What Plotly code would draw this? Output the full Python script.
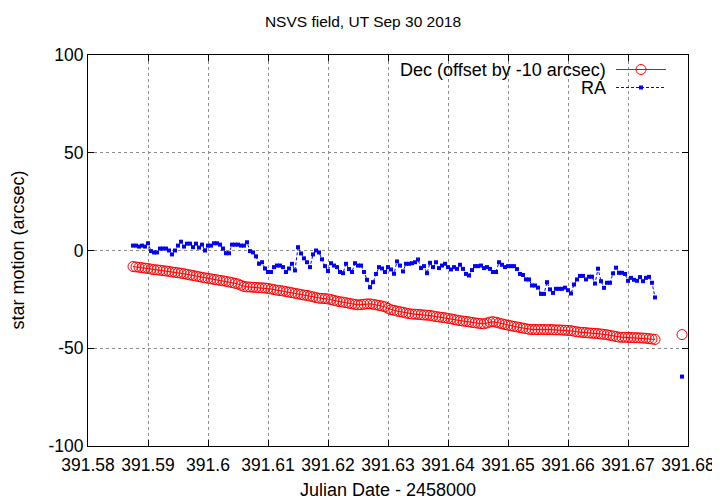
import plotly.graph_objects as go

# ---------------- data ----------------
jd = [
    391.5875, 391.5880, 391.5885, 391.5890, 391.5895, 391.5900, 391.5905, 391.5910, 391.5915, 391.5920,
    391.5925, 391.5930, 391.5935, 391.5940, 391.5945, 391.5950, 391.5955, 391.5960, 391.5965, 391.5970,
    391.5975, 391.5980, 391.5985, 391.5990, 391.5995, 391.6000, 391.6005, 391.6010, 391.6015, 391.6020,
    391.6025, 391.6030, 391.6035, 391.6040, 391.6045, 391.6050, 391.6055, 391.6060, 391.6065, 391.6070,
    391.6075, 391.6080, 391.6085, 391.6090, 391.6095, 391.6100, 391.6105, 391.6110, 391.6115, 391.6120,
    391.6125, 391.6130, 391.6135, 391.6140, 391.6145, 391.6150, 391.6155, 391.6160, 391.6165, 391.6170,
    391.6175, 391.6180, 391.6185, 391.6190, 391.6195, 391.6200, 391.6205, 391.6210, 391.6215, 391.6220,
    391.6225, 391.6230, 391.6235, 391.6240, 391.6245, 391.6250, 391.6255, 391.6260, 391.6265, 391.6270,
    391.6275, 391.6280, 391.6285, 391.6290, 391.6295, 391.6300, 391.6305, 391.6310, 391.6315, 391.6320,
    391.6325, 391.6330, 391.6335, 391.6340, 391.6345, 391.6350, 391.6355, 391.6360, 391.6365, 391.6370,
    391.6375, 391.6380, 391.6385, 391.6390, 391.6395, 391.6400, 391.6405, 391.6410, 391.6415, 391.6420,
    391.6425, 391.6430, 391.6435, 391.6440, 391.6445, 391.6450, 391.6455, 391.6460, 391.6465, 391.6470,
    391.6475, 391.6480, 391.6485, 391.6490, 391.6495, 391.6500, 391.6505, 391.6510, 391.6515, 391.6520,
    391.6525, 391.6530, 391.6535, 391.6540, 391.6545, 391.6550, 391.6555, 391.6560, 391.6565, 391.6570,
    391.6575, 391.6580, 391.6585, 391.6590, 391.6595, 391.6600, 391.6605, 391.6610, 391.6615, 391.6620,
    391.6625, 391.6630, 391.6635, 391.6640, 391.6645, 391.6650, 391.6655, 391.6660, 391.6665, 391.6670,
    391.6675, 391.6680, 391.6685, 391.6690, 391.6695, 391.6700, 391.6705, 391.6710, 391.6715, 391.6720,
    391.6725, 391.6730, 391.6735, 391.6740, 391.6745,
]

dec = [
    -8.2, -8.4, -8.6, -8.8, -9.0, -9.2, -9.5, -9.8, -9.9, -10.1,
    -10.3, -10.5, -10.7, -11.0, -11.2, -11.4, -11.6, -11.9, -12.2, -12.5,
    -12.8, -13.1, -13.4, -13.7, -14.0, -14.2, -14.5, -14.8, -15.0, -15.3,
    -15.5, -15.8, -16.1, -16.4, -16.8, -17.1, -17.8, -18.4, -18.6, -18.7,
    -18.8, -18.9, -19.0, -19.1, -19.2, -19.4, -19.7, -20.0, -20.3, -20.5,
    -20.7, -21.0, -21.3, -21.6, -21.9, -22.2, -22.5, -22.8, -23.0, -23.3,
    -23.7, -24.1, -24.4, -24.5, -24.6, -24.8, -25.1, -25.5, -25.9, -26.2,
    -26.4, -26.7, -27.0, -27.3, -27.6, -27.8, -27.7, -27.5, -27.3, -27.3,
    -27.5, -27.8, -28.1, -28.4, -28.8, -29.6, -30.3, -30.6, -31.0, -31.3,
    -31.6, -32.0, -32.3, -32.5, -32.6, -32.7, -32.8, -33.0, -33.1, -33.2,
    -33.5, -33.8, -34.0, -34.2, -34.4, -34.7, -35.0, -35.3, -35.6, -35.9,
    -36.1, -36.3, -36.5, -36.8, -37.0, -37.2, -37.4, -37.5, -37.1, -36.6,
    -36.4, -36.7, -37.1, -37.5, -37.9, -38.2, -38.5, -38.8, -39.1, -39.4,
    -39.7, -40.0, -40.3, -40.4, -40.4, -40.5, -40.4, -40.4, -40.5, -40.4,
    -40.5, -40.6, -40.6, -40.7, -40.8, -40.9, -41.0, -41.3, -41.6, -41.8,
    -41.9, -42.0, -42.2, -42.3, -42.4, -42.5, -42.7, -42.9, -43.1, -43.4,
    -43.7, -44.0, -44.3, -44.4, -44.4, -44.5, -44.5, -44.6, -44.6, -44.7,
    -44.8, -44.9, -45.1, -45.3, -45.5,
]

ra = [
    2.5, 2.5, 2.0, 2.5, 2.0, 3.7, -0.3, -1.0, -1.0, 1.0,
    1.0, 1.0, 0.0, -2.0, 0.0, 2.5, 4.5, 2.0, 3.5, 3.5,
    1.7, 3.5, 1.5, 3.0, 0.0, 2.5, 2.5, 3.7, 3.7, 3.0,
    1.0, -1.4, -1.4, 3.0, 3.0, 3.0, 2.5, 2.5, 4.2, -0.3,
    -1.0, -3.0, -6.8, -6.0, -9.2, -11.0, -11.0, -8.5, -7.7, -7.7,
    -8.5, -11.0, -9.2, -6.8, -10.2, 1.7, -1.5, -4.0, -6.0, -8.5,
    -2.0, 0.0, -1.0, -4.5, -8.0, -10.5, -6.5, -7.7, -8.5, -11.0,
    -11.6, -6.8, -9.5, -11.0, -6.5, -7.7, -7.7, -11.0, -15.0, -18.8,
    -16.2, -12.0, -8.5, -9.2, -11.0, -8.5, -9.7, -11.9, -5.6, -7.7,
    -10.7, -6.8, -6.8, -6.5, -6.0, -4.6, -9.0, -8.0, -11.6, -6.3,
    -8.5, -6.0, -9.0, -7.7, -6.8, -8.5, -9.7, -8.5, -9.4, -7.3,
    -9.4, -12.0, -12.8, -10.0, -8.0, -8.0, -7.7, -9.0, -8.5, -9.4,
    -11.0, -11.0, -6.0, -7.3, -8.5, -8.0, -8.0, -8.0, -9.5, -12.0,
    -12.5, -14.8, -14.8, -17.9, -17.9, -19.0, -22.2, -22.2, -16.2, -19.9,
    -21.7, -19.6, -19.6, -19.6, -19.0, -20.3, -22.0, -17.4, -14.8, -13.0,
    -13.0, -14.8, -13.4, -13.4, -16.9, -9.3, -15.7, -19.1, -16.5, -16.5,
    -11.7, -8.8, -11.4, -11.4, -12.0, -15.5, -14.0, -15.0, -15.5, -13.6,
    -15.7, -14.0, -13.5, -16.5, -24.0,
]

# isolated last frame (not connected to the main run)
jd_late = [391.6790]
dec_late = [-43.0]
ra_late = [-64.5]

x_tickvals = [391.58, 391.59, 391.60, 391.61, 391.62, 391.63, 391.64, 391.65, 391.66, 391.67, 391.68]
x_ticktext = ["391.58", "391.59", "391.6", "391.61", "391.62", "391.63", "391.64",
              "391.65", "391.66", "391.67", "391.68"]
y_tickvals = [100, 50, 0, -50, -100]
y_ticktext = ["100", "50", "0", "-50", "-100"]

title_text = "NSVS field, UT Sep 30 2018"
x_title = "Julian Date - 2458000"
y_title = "star motion (arcsec)"
dec_name = "Dec (offset by -10 arcsec)"
ra_name = "RA"

# ---------------- figure ----------------
FONT = "Liberation Sans, Arial, Helvetica, sans-serif"
FS_TICK = 17.5
FS_LAB = 18
FS_TITLE = 15.5
RED = "#ff0000"
BLUE = "#0000ff"

# the page body adds an 8 px offset; the figure is sized to compensate
W, H = 712, 496
ML, MT = 80, 47
PW, PH = 600, 391

x_all = jd + [None] + jd_late
dec_all = dec + [None] + dec_late
ra_all = ra + [None] + ra_late

fig = go.Figure()

fig.add_trace(go.Scatter(
    x=x_all, y=dec_all, mode="lines+markers", name=dec_name,
    line=dict(color=RED, width=1),
    marker=dict(symbol="circle-open", size=10, color=RED, line=dict(width=1, color=RED)),
    connectgaps=False, showlegend=False,
))
fig.add_trace(go.Scatter(
    x=x_all, y=ra_all, mode="lines+markers", name=ra_name,
    line=dict(color=BLUE, width=1, dash="3px,2px"),
    marker=dict(symbol="square", size=4, color=BLUE, line=dict(width=0)),
    connectgaps=False, showlegend=False,
))

# legend samples (gnuplot style: text on the left, sample on the right)
fig.add_trace(go.Scatter(
    x=[528, 553, 578], y=[376.5, 376.5, 376.5], mode="lines", xaxis="x2", yaxis="y2",
    line=dict(color=RED, width=1), showlegend=False, hoverinfo="skip"))
fig.add_trace(go.Scatter(
    x=[553], y=[376.5], mode="markers", xaxis="x2", yaxis="y2",
    marker=dict(symbol="circle-open", size=10, color=RED, line=dict(width=1, color=RED)),
    showlegend=False, hoverinfo="skip"))
fig.add_trace(go.Scatter(
    x=[528, 553, 578], y=[358.5, 358.5, 358.5], mode="lines", xaxis="x2", yaxis="y2",
    line=dict(color=BLUE, width=1, dash="3px,2px"), showlegend=False, hoverinfo="skip"))
fig.add_trace(go.Scatter(
    x=[553], y=[358.5], mode="markers", xaxis="x2", yaxis="y2",
    marker=dict(symbol="square", size=4, color=BLUE, line=dict(width=0)),
    showlegend=False, hoverinfo="skip"))

axis_common = dict(
    showline=True, mirror="ticks", linecolor="black", linewidth=1,
    ticks="inside", ticklen=6, tickwidth=1, tickcolor="black",
    showgrid=True, gridcolor="#8c8c8c", gridwidth=1, griddash="dot",
    zeroline=False, tickfont=dict(family=FONT, size=FS_TICK, color="black"),
)

fig.update_layout(
    width=W, height=H, autosize=False,
    margin=dict(l=ML, r=W - ML - PW, t=MT, b=H - MT - PH, pad=0),
    paper_bgcolor="white", plot_bgcolor="white",
    font=dict(family=FONT, size=FS_LAB, color="black"),
    title=dict(text=title_text, x=355 / W, xref="container", xanchor="center",
               y=1 - 14 / H, yref="container", yanchor="middle",
               font=dict(family=FONT, size=FS_TITLE, color="black")),
    xaxis=dict(range=[391.58, 391.68], tickmode="array", tickvals=x_tickvals,
               ticktext=x_ticktext, automargin=False, ticklabelstandoff=3, **axis_common),
    yaxis=dict(range=[-100, 100], tickmode="array", tickvals=y_tickvals,
               ticktext=y_ticktext, automargin=False, **axis_common),
    xaxis2=dict(overlaying="x", range=[0, PW], visible=False, anchor="y2"),
    yaxis2=dict(overlaying="y", range=[0, PH], visible=False, anchor="x2"),
    showlegend=False,
    annotations=[
        dict(text=x_title, xref="paper", yref="paper", x=0.5, y=-44 / PH,
             xanchor="center", yanchor="middle", showarrow=False,
             font=dict(family=FONT, size=FS_LAB, color="black")),
        dict(text=y_title, xref="paper", yref="paper", x=-71 / PW, y=0.5,
             xanchor="center", yanchor="middle", textangle=-90, showarrow=False,
             font=dict(family=FONT, size=FS_LAB, color="black")),
        dict(text=dec_name, xref="paper", yref="paper", x=520 / PW, y=376.5 / PH,
             xanchor="right", yanchor="middle", showarrow=False,
             font=dict(family=FONT, size=FS_LAB, color="black")),
        dict(text=ra_name, xref="paper", yref="paper", x=520 / PW, y=358.5 / PH,
             xanchor="right", yanchor="middle", showarrow=False,
             font=dict(family=FONT, size=FS_LAB, color="black")),
    ],
)

fig.write_html("out.html")
